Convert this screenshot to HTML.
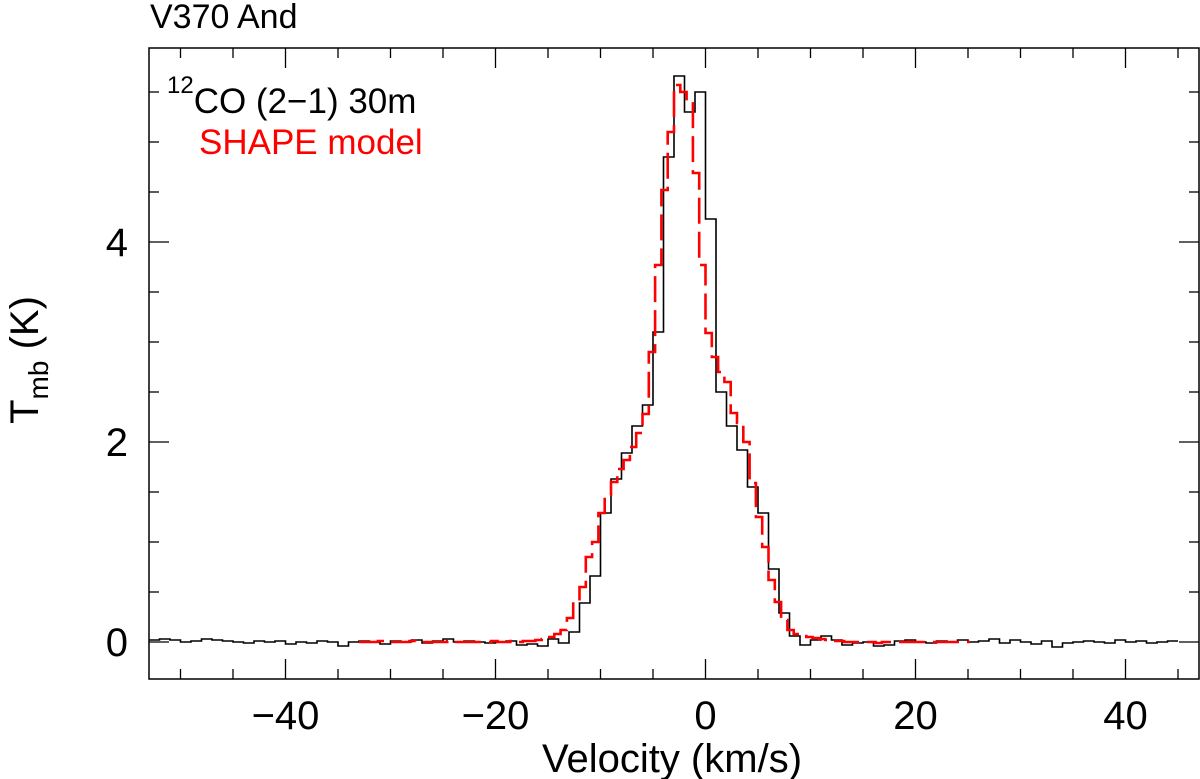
<!DOCTYPE html>
<html><head><meta charset="utf-8"><style>
body{margin:0;background:#fff;}
svg{display:block;font-family:"Liberation Sans","DejaVu Sans",sans-serif;}
</style></head><body>
<svg id="chart" width="1200" height="779" viewBox="0 0 1200 779" xmlns="http://www.w3.org/2000/svg">
<text x="150" y="28" font-size="34" fill="#000">V370 And</text>
<g id="plot"></g>
<text x="167" y="113" font-size="35" fill="#000"><tspan font-size="24" dy="-20">12</tspan><tspan dy="20">CO (2−1) 30m</tspan></text>
<text x="199" y="154" font-size="35" fill="#ff0000">SHAPE model</text>
<text x="672" y="772" font-size="40" text-anchor="middle" fill="#000">Velocity (km/s)</text>
<text transform="translate(38,360) rotate(-90)" font-size="40" text-anchor="middle" fill="#000">T<tspan font-size="28" dy="10">mb</tspan><tspan dy="-10"> (K)</tspan></text>
</svg>
<script>
// Observed spectrum: channels of 1 km/s, left edge at obsStart
const obsStart = -53;
const obsWidth = 1.0;
const obsValues = [
 0.02,0.03,0.02,0.00,0.01,0.03,0.02,0.01,0.00,-0.01,0.01,0.00,0.01,-0.02,0.00,-0.01,0.01,0.00,-0.04,0.00,
 0.01,0.00,-0.02,0.01,0.00,0.02,-0.01,0.01,0.03,0.00,0.01,0.00,-0.01,0.00,0.01,-0.03,-0.02,-0.04,
 0.03,-0.01,0.10,0.39,0.66,1.29,1.63,1.89,2.16,2.37,3.10,4.85,5.66,5.30,5.50,
 4.23,2.50,2.16,1.92,1.55,1.29,0.73,0.29,0.06,-0.03,0.02,0.06,0.02,
 -0.03,-0.01,0.00,-0.04,-0.03,0.01,0.02,0.00,-0.01,0.01,0.00,0.02,0.00,0.01,0.03,-0.01,0.02,0.00,-0.02,0.01,-0.05,-0.01,0.00,0.01,0.00,-0.01,0.02,0.00,0.01,-0.01,0.00,0.01
];
// SHAPE model: channels of 0.6 km/s, left edge at modelStart
const modelStart = -33.0;
const modelWidth = 0.6;
const modelValues = [
 0.00,0.00,0.00,0.01,0.00,0.00,0.00,0.00,0.01,0.00,0.00,0.00,0.00,0.00,0.01,0.00,0.00,0.00,0.00,0.00,
 0.00,0.01,0.00,0.00,0.01,0.00,0.01,0.01,0.02,0.03,0.05,0.08,0.12,0.24,0.40,
 0.55,0.85,1.00,1.29,1.47,1.60,1.73,1.82,1.95,2.09,2.28,2.90,3.77,4.52,5.10,5.57,5.50,5.40,4.69,
 3.77,3.09,2.85,2.70,2.60,2.29,2.19,2.00,1.59,1.25,0.95,0.62,0.40,0.22,0.12,
 0.08,0.06,0.05,0.04,0.03,0.02,0.01,0.01,0.00,0.00,0.00,0.00,0.00,-0.01,0.00,0.00,0.00,0.00,0.00,0.00,0.00,0.00,0.00,0.00,0.00,0.00,0.00,0.00
];
const xTickValues = [-40,-20,0,20,40];
const xTickLabels = ["−40","−20","0","20","40"];
const yTickValues = [0,2,4];
const yTickLabels = ["0","2","4"];

const X0=149,X1=1199,Y0=48,Y1=679;
const xmin=-53,xmax=47,ymin=-0.37,ymax=5.94;
const sx=v=>X0+(v-xmin)/(xmax-xmin)*(X1-X0);
const sy=t=>Y1-(t-ymin)/(ymax-ymin)*(Y1-Y0);
const NS="http://www.w3.org/2000/svg";
const g=document.getElementById('plot');
function mk(tag,attrs){const e=document.createElementNS(NS,tag);for(const k in attrs)e.setAttribute(k,attrs[k]);g.appendChild(e);return e;}

function stepPath(start,w,vals){
 let d='';
 vals.forEach((v,i)=>{const xa=sx(start+i*w),xb=sx(start+(i+1)*w),y=sy(v);
  d+=(i===0?'M':'L')+xa.toFixed(1)+','+y.toFixed(1)+'L'+xb.toFixed(1)+','+y.toFixed(1);});
 return d;
}
let p=mk('path',{d:stepPath(obsStart,obsWidth,obsValues),fill:'none',stroke:'#000','stroke-width':1.6});


p=mk('path',{d:stepPath(modelStart,modelWidth,modelValues),fill:'none',stroke:'#ff0000','stroke-width':2.6,'stroke-dasharray':'26 8'});



let r=mk('rect',{x:X0,y:Y0,width:X1-X0,height:Y1-Y0,fill:'none',stroke:'#000','stroke-width':1.5});


for(let v=-50;v<=45;v+=5){
 const x=sx(v),len=(v%20===0)?20:10;
 let t=mk('line',{x1:x,x2:x,y1:Y1,y2:Y1-len,stroke:'#000','stroke-width':1.3});
 
 
 t=mk('line',{x1:x,x2:x,y1:Y0,y2:Y0+len,stroke:'#000','stroke-width':1.3});
 
 
}
xTickValues.forEach((v,i)=>{
 const t=mk('text',{x:sx(v),y:729,'font-size':40,'text-anchor':'middle',fill:'#000'});
 t.textContent=xTickLabels[i];
 
 
});
for(let k=0;k<=11;k++){
 const v=k*0.5,y=sy(v),len=(k%4===0)?20:10;
 let t=mk('line',{x1:X0,x2:X0+len,y1:y,y2:y,stroke:'#000','stroke-width':1.3});
 
 
 t=mk('line',{x1:X1,x2:X1-len,y1:y,y2:y,stroke:'#000','stroke-width':1.3});
 
 
}
yTickValues.forEach((v,i)=>{
 const t=mk('text',{x:128,y:sy(v)+14,'font-size':40,'text-anchor':'end',fill:'#000'});
 t.textContent=yTickLabels[i];
 
 
});
</script>
</body></html>
